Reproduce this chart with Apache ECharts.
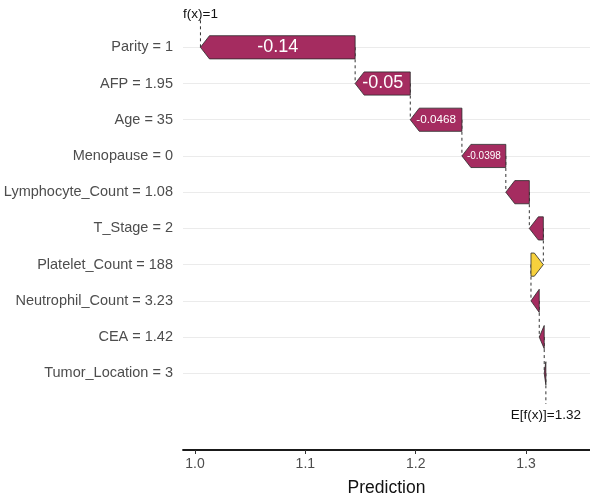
<!DOCTYPE html>
<html>
<head>
<meta charset="utf-8">
<script src="https://cdn.jsdelivr.net/npm/echarts@6/dist/echarts.min.js"></script>
<style>
html,body{margin:0;padding:0;background:#fff;}
#chart{width:590px;height:497px;}
</style>
</head>
<body>
<div id="chart"></div>
<script>
// ---- data (top row first) ----
var features = ['Parity', 'AFP', 'Age', 'Menopause', 'Lymphocyte_Count', 'T_Stage',
  'Platelet_Count', 'Neutrophil_Count', 'CEA', 'Tumor_Location'];
var featureValues = ['1', '1.95', '35', '0', '1.08', '2', '188', '3.23', '1.42', '3'];
var shapValues = [-0.1402, -0.04998, -0.0468, -0.0398, -0.0213, -0.0127, 0.0112, -0.0075, -0.0045, -0.0015];
var baseValue = 1.318; // E[f(x)]
var xTicks = [1.0, 1.1, 1.2, 1.3];
var xMin = 0.9891, xMax = 1.358;

// ---- build ----
var labels = features.map(function (f, i) { return f + ' = ' + featureValues[i]; });
function fmt(v) { return String(Number(v.toPrecision(3))); }
var n = features.length;
var rows = new Array(n);
var cur = baseValue;
for (var i = n - 1; i >= 0; i--) {
  var from = cur, to = cur + shapValues[i];
  rows[i] = [i, from, to, shapValues[i]];
  cur = to;
}
var fx = cur;

var FONT = '"Liberation Sans", Arial, sans-serif';
var measureCtx = document.createElement('canvas').getContext('2d');
measureCtx.font = '100px ' + FONT;

var chart = echarts.init(document.getElementById('chart'), null, {renderer: 'canvas'});

function renderItem(params, api) {
  var i = api.value(0), from = api.value(1), to = api.value(2), val = api.value(3);
  var pF = api.coord([from, i]), pT = api.coord([to, i]);
  var step = api.coord([from, 1])[1] - api.coord([from, 0])[1];
  var yc = pF[1];
  var h = step * 0.64;
  var left = Math.min(pF[0], pT[0]), right = Math.max(pF[0], pT[0]);
  var w = right - left;
  var tip = Math.min(9, w);
  var pts;
  if (val < 0) {
    pts = [[left, yc], [left + tip, yc - h / 2], [right, yc - h / 2], [right, yc + h / 2], [left + tip, yc + h / 2]];
  } else {
    pts = [[left, yc - h / 2], [right - tip, yc - h / 2], [right, yc], [right - tip, yc + h / 2], [left, yc + h / 2]];
  }
  var children = [];
  var dash = {stroke: '#333', lineWidth: 1, lineDash: [3, 3]};
  var yEnd = (i === n - 1) ? yc + step * 0.85 : yc + step;
  children.push({type: 'line', shape: {x1: pF[0], y1: yc, x2: pF[0], y2: yEnd}, style: dash, z2: 1});
  if (i === 0) {
    children.push({type: 'line', shape: {x1: pT[0], y1: yc, x2: pT[0], y2: yc - step * 0.77}, style: dash, z2: 1});
    children.push({type: 'text', x: pT[0], y: yc - step * 0.92, style: {
      text: 'f(x)=' + fmt(fx), fill: '#111', font: '13.5px ' + FONT, align: 'center', verticalAlign: 'middle'}, z2: 5});
  }
  if (i === n - 1) {
    children.push({type: 'text', x: pF[0], y: yc + step * 1.15, style: {
      text: 'E[f(x)]=' + fmt(baseValue), fill: '#111', font: '13.5px ' + FONT, align: 'center', verticalAlign: 'middle'}, z2: 5});
  }
  children.push({type: 'polygon', shape: {points: pts}, style: {
    fill: val < 0 ? '#A52C60' : '#F7D13D', stroke: '#2a2a2a', lineWidth: 0.8}, z2: 2});
  var lab = fmt(val);
  var em = measureCtx.measureText(lab).width / 100;
  var fs = Math.min(18, 0.77 * w / em);
  if (fs >= 7) {
    children.push({type: 'text', x: (left + right) / 2, y: yc, style: {
      text: lab, fill: '#fff', font: fs.toFixed(1) + 'px ' + FONT, align: 'center', verticalAlign: 'middle'}, z2: 6});
  }
  return {type: 'group', children: children};
}

chart.setOption({
  animation: false,
  backgroundColor: '#fff',
  textStyle: {fontFamily: FONT},
  grid: {left: 183, right: 0, top: 47.3, bottom: 497 - 373.3, containLabel: false, outerBoundsMode: 'none'},
  xAxis: {
    type: 'value', min: xMin, max: xMax, offset: 450 - 373.3,
    axisLine: {show: true, onZero: false, lineStyle: {color: '#1a1a1a', width: 1.8}},
    axisTick: {show: true, customValues: xTicks, length: 4, lineStyle: {color: '#333', width: 1}},
    axisLabel: {customValues: xTicks, formatter: function (v) { return v.toFixed(1); },
      color: '#4d4d4d', fontSize: 14, margin: 7, fontFamily: FONT},
    splitLine: {show: false},
    name: 'Prediction', nameLocation: 'middle', nameGap: 29.5,
    nameTextStyle: {fontSize: 17.5, color: '#111', fontFamily: FONT}
  },
  yAxis: {
    type: 'category', data: labels, inverse: true, boundaryGap: false,
    axisLine: {show: false}, axisTick: {show: false},
    axisLabel: {margin: 10, fontSize: 14.5, color: '#4d4d4d', interval: 0, fontFamily: FONT},
    splitLine: {show: true, interval: 0, lineStyle: {color: '#ebebeb', width: 1}}
  },
  series: [{
    type: 'custom',
    renderItem: renderItem,
    encode: {x: [1, 2], y: 0},
    data: rows,
    clip: false
  }]
});
</script>
</body>
</html>
